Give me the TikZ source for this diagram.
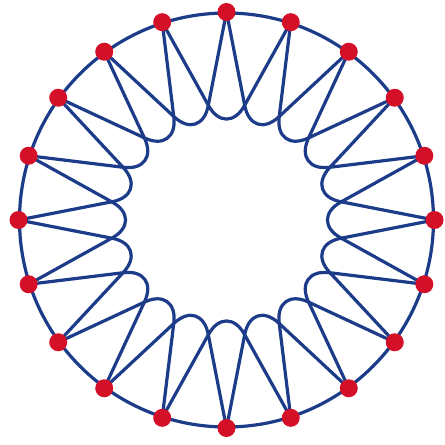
\documentclass[tikz,border=0pt]{standalone}
\usetikzlibrary{backgrounds}
\definecolor{wireblue}{RGB}{28,60,138}
\definecolor{dotred}{RGB}{212,16,40}
\begin{document}
\begin{tikzpicture}[x=1pt,y=-1pt,
  wire/.style={draw=wireblue,line width=3.2pt,line join=round,line cap=round},
  loopwire/.style={wire,rounded corners=37pt},
  dotnode/.style={circle,fill=dotred,inner sep=0pt,minimum size=18pt}]
\useasboundingbox (0,0) rectangle (445,445);
% dots and loop apexes
\foreach \k in {0,...,19}{
  \node[dotnode] (d\k) at ({226.5+208*sin(18*\k)},{220-208*cos(18*\k)}) {};
  \coordinate (a\k) at ({226.5+82*sin(18*\k)},{220-82*cos(18*\k)});
}
\begin{scope}[on background layer]
  \fill[white] (0,0) rectangle (445,445);
  \draw[wire] (226.5,220) circle[radius=207];
  \foreach \k in {0,...,19}{
    \pgfmathtruncatemacro\a{mod(\k+19,20)}
    \pgfmathtruncatemacro\b{mod(\k+1,20)}
    \draw[loopwire] (d\a.center) -- (a\k) -- (d\b.center);
  }
\end{scope}
\end{tikzpicture}
\end{document}
